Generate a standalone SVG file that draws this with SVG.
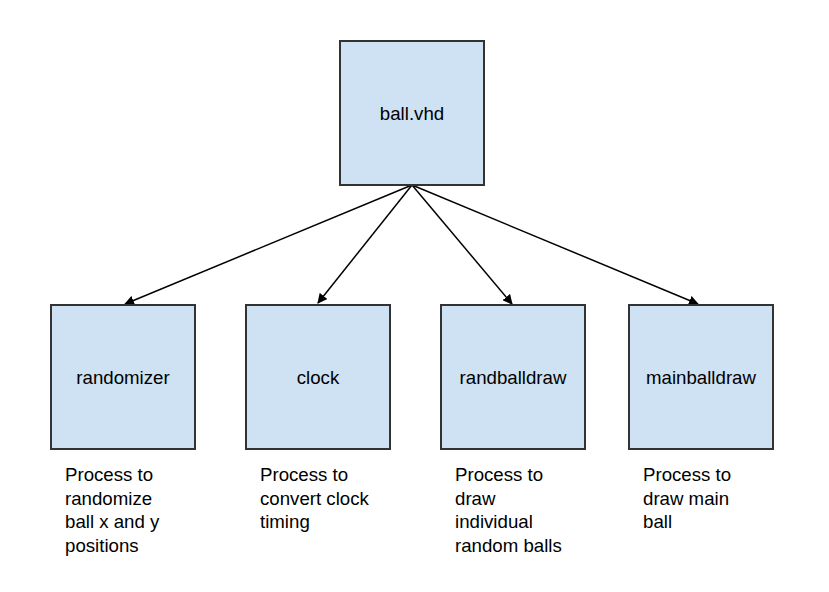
<svg xmlns="http://www.w3.org/2000/svg" width="829" height="592" viewBox="0 0 829 592">
<style>
.box{fill:#cfe2f3;stroke:#333;stroke-width:2}
.lbl{font-family:"Liberation Sans",Arial,sans-serif;font-size:18.67px;fill:#000}
.c{text-anchor:middle}
.edge{stroke:#000;stroke-width:1.5;fill:none}
</style>
<defs>
<marker id="ah" viewBox="0 0 10 10" refX="9" refY="5" markerWidth="10" markerHeight="10" markerUnits="userSpaceOnUse" orient="auto">
<path d="M0,0 L10,5 L0,10 z" fill="#000"/>
</marker>
</defs>
<rect width="829" height="592" fill="#fff"/>
<g id="connectors">
<line class="edge" x1="412" y1="185" x2="125" y2="304" marker-end="url(#ah)"/>
<line class="edge" x1="412" y1="185" x2="318" y2="303" marker-end="url(#ah)"/>
<line class="edge" x1="412" y1="185" x2="512" y2="304" marker-end="url(#ah)"/>
<line class="edge" x1="412" y1="185" x2="698" y2="304" marker-end="url(#ah)"/>
</g>
<g id="ballvhd">
<rect class="box" x="340" y="41" width="144" height="144"/>
<text class="lbl c" x="412" y="120">ball.vhd</text>
</g>
<g id="randomizer">
<rect class="box" x="51" y="305" width="144" height="144"/>
<text class="lbl c" x="123" y="384">randomizer</text>
<text class="lbl" x="65"><tspan x="65" y="481">Process to</tspan><tspan x="65" y="504.5">randomize</tspan><tspan x="65" y="528">ball x and y</tspan><tspan x="65" y="551.5">positions</tspan></text>
</g>
<g id="clock">
<rect class="box" x="246" y="305" width="144" height="144"/>
<text class="lbl c" x="318" y="384">clock</text>
<text class="lbl" x="260"><tspan x="260" y="481">Process to</tspan><tspan x="260" y="504.5">convert clock</tspan><tspan x="260" y="528">timing</tspan></text>
</g>
<g id="randballdraw">
<rect class="box" x="441" y="305" width="144" height="144"/>
<text class="lbl c" x="513" y="384">randballdraw</text>
<text class="lbl" x="455"><tspan x="455" y="481">Process to</tspan><tspan x="455" y="504.5">draw</tspan><tspan x="455" y="528">individual</tspan><tspan x="455" y="551.5">random balls</tspan></text>
</g>
<g id="mainballdraw">
<rect class="box" x="629" y="305" width="144" height="144"/>
<text class="lbl c" x="701" y="384">mainballdraw</text>
<text class="lbl" x="643"><tspan x="643" y="481">Process to</tspan><tspan x="643" y="504.5">draw main</tspan><tspan x="643" y="528">ball</tspan></text>
</g>
</svg>
